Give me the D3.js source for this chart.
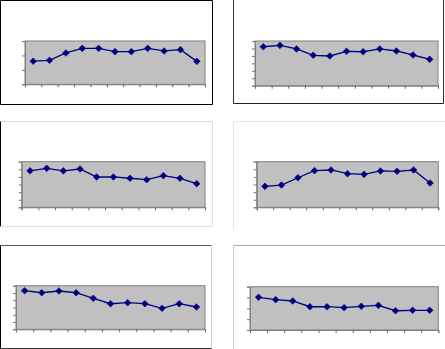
<!DOCTYPE html>
<html>
<head>
<meta charset="utf-8">
<script src="https://cdn.jsdelivr.net/npm/d3@7"></script>
<style>
  html, body { margin: 0; padding: 0; background: #fff; }
  svg { display: block; }
</style>
</head>
<body>
<svg id="chart" width="445" height="349"></svg>
<script>
// Eleven periods per panel, no category labels shown
const categories = ["1", "2", "3", "4", "5", "6", "7", "8", "9", "10", "11"];

// One series per panel (values in axis units)
const seriesA = [1.60, 1.66, 2.17, 2.49, 2.49, 2.26, 2.26, 2.49, 2.31, 2.40, 1.59];
const seriesB = [5.23, 5.42, 4.93, 4.08, 3.99, 4.62, 4.56, 4.93, 4.66, 4.12, 3.54];
const seriesC = [4.80, 5.13, 4.80, 5.04, 3.99, 3.99, 3.82, 3.63, 4.16, 3.82, 3.11];
const seriesD = [2.76, 2.93, 3.89, 4.82, 4.91, 4.42, 4.34, 4.78, 4.74, 4.91, 3.20];
const seriesE = [5.31, 5.03, 5.27, 5.03, 4.26, 3.52, 3.66, 3.52, 2.89, 3.52, 3.07];
const seriesF = [3.02, 2.80, 2.68, 2.15, 2.15, 2.06, 2.19, 2.28, 1.78, 1.82, 1.82];

// Y-axis maxima (min is 0) and tick steps for each panel
const yMax = [3, 6, 6, 6, 6, 4];
const yTickValues = [
  [0, 1, 2, 3],
  [0, 1, 2, 3, 4, 5, 6],
  [0, 1, 2, 3, 4, 5, 6],
  [0, 1, 2, 3, 4, 5, 6],
  [0, 1, 2, 3, 4, 5, 6],
  [0, 1, 2, 3, 4]
];

const series = [seriesA, seriesB, seriesC, seriesD, seriesE, seriesF];

// Layout: plot rectangle and outer frame sides for each panel
const layout = [
  { plot: [25, 41, 205, 84.3],
    frame: { x0: 0.5, y0: 0.5, x1: 212.5, y1: 104.5,
      top: "#000", left: "#000", right: "#000", bottom: "#000" } },
  { plot: [255, 41, 438, 85.7],
    frame: { x0: 233.5, y0: -1, x1: 443.5, y1: 103.5,
      top: null, left: "#333", right: "#333", bottom: "#222" } },
  { plot: [21.7, 161.7, 205, 207.3],
    frame: { x0: 0.5, y0: 121.5, x1: 212.5, y1: 226.5,
      top: "#ddd", left: "#000", right: "#ddd", bottom: "#ddd" } },
  { plot: [256.7, 161.7, 438.3, 207.3],
    frame: { x0: 233.5, y0: 121.5, x1: 446, y1: 230,
      top: "#e4e4e4", left: "#e4e4e4", right: null, bottom: null } },
  { plot: [16, 285.7, 205, 329.3],
    frame: { x0: 0.5, y0: 245.5, x1: 211.5, y1: 348.5,
      top: "#555", left: "#000", right: "#ccc", bottom: "#333" } },
  { plot: [250, 286.7, 438.3, 330],
    frame: { x0: 233.5, y0: 245.5, x1: 446, y1: 350,
      top: "#aaa", left: "#ccc", right: null, bottom: null } }
];

const svg = d3.select("#chart");
const diamond = d3.symbol().type(d3.symbolSquare).size(22);

series.forEach((values, i) => {
  const L = layout[i];
  const [px0, py0, px1, py1] = L.plot;
  const g = svg.append("g");

  // outer frame, side by side
  const f = L.frame;
  const sides = [
    ["top", f.x0, f.y0, f.x1, f.y0],
    ["left", f.x0, f.y0, f.x0, f.y1],
    ["right", f.x1, f.y0, f.x1, f.y1],
    ["bottom", f.x0, f.y1, f.x1, f.y1]
  ];
  sides.forEach(([k, a, b, c, d]) => {
    if (!f[k]) return;
    g.append("line").attr("x1", a).attr("y1", b).attr("x2", c).attr("y2", d)
      .attr("stroke", f[k]).attr("stroke-width", 1);
  });

  // scales: x in period slots, points centred within each slot
  const x = d3.scaleLinear().domain([0, categories.length]).range([px0, px1]);
  const y = d3.scaleLinear().domain([0, yMax[i]]).range([py1, py0]);

  // plot area
  g.append("rect")
    .attr("x", px0).attr("y", py0)
    .attr("width", px1 - px0).attr("height", py1 - py0)
    .attr("fill", "#c0c0c0")
    .attr("stroke", "#808080").attr("stroke-width", 1);

  // axes with tick marks only
  g.append("g")
    .attr("transform", `translate(0,${py1})`)
    .call(d3.axisBottom(x).tickValues(d3.range(categories.length + 1))
      .tickSize(3).tickFormat(""))
    .call(a => a.select(".domain").attr("stroke", "#808080"))
    .call(a => a.selectAll(".tick line").attr("stroke", "#666"));

  g.append("g")
    .attr("transform", `translate(${px0},0)`)
    .call(d3.axisLeft(y).tickValues(yTickValues[i]).tickSize(3).tickFormat(""))
    .call(a => a.select(".domain").attr("stroke", "#808080"))
    .call(a => a.selectAll(".tick line").attr("stroke", "#777"));

  // series line
  const line = d3.line()
    .x((d, j) => x(j + 0.5))
    .y(d => y(d));

  g.append("path")
    .datum(values)
    .attr("d", line)
    .attr("fill", "none")
    .attr("stroke", "#000080")
    .attr("stroke-width", 1.3);

  // diamond markers
  g.selectAll("path.marker")
    .data(values)
    .join("path")
    .attr("class", "marker")
    .attr("d", diamond)
    .attr("transform", (d, j) => `translate(${x(j + 0.5)},${y(d)}) rotate(45)`)
    .attr("fill", "#000080")
    .attr("stroke", "#000080")
    .attr("stroke-width", 0.6);
});
</script>
</body>
</html>
